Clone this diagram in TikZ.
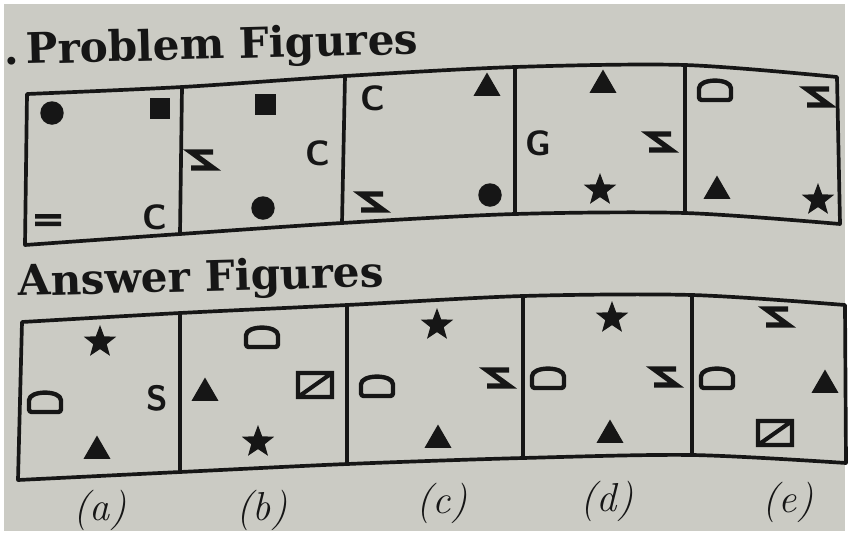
\documentclass[tikz,border=0pt]{standalone}
\usepackage{fontspec}
\usepackage{tikz}
\usetikzlibrary{shapes.geometric,positioning}
\newfontfamily\headfont{DejaVu Serif}

\definecolor{paper}{RGB}{203,203,196}
\definecolor{ink}{RGB}{22,22,22}

\tikzset{
  frame/.style={draw=ink, line width=2.1pt, line join=round},
  inkline/.style={draw=ink, line width=2.5pt},
  blob/.style={circle, fill=ink, inner sep=0pt, minimum size=0.47cm},
  block/.style={rectangle, fill=ink, inner sep=0pt, minimum size=0.42cm},
  tri/.style={regular polygon, regular polygon sides=3, fill=ink, inner sep=0pt, minimum size=0.62cm},
  starry/.style={star, star points=5, star point ratio=2.4, fill=ink, inner sep=0pt, minimum size=0.68cm},
  glyph/.style={text=ink, font=\sffamily\bfseries\fontsize{20}{20}\selectfont, inner sep=0pt},
  title/.style={anchor=base west, text=ink, font=\headfont\bfseries\fontsize{24}{24}\selectfont, inner sep=0pt},
  tag/.style={text=ink, font=\itshape\fontsize{23}{23}\selectfont, inner sep=0pt}
}
% little drawn marks, #1 is the centre
\newcommand{\zeemark}[1]{\draw[inkline, line width=3pt, line join=miter, shift={#1}] (11,-8) -- (-11,-8) -- (11,8) -- (-11,8);}
\newcommand{\domemark}[1]{\draw[inkline, line join=round, rounded corners=1.5pt, shift={#1}] (-16,9) -- (-16,0) .. controls (-16,-13) and (16,-13) .. (16,0) -- (16,9) -- cycle;}
\newcommand{\boxmark}[1]{\draw[inkline, line width=2.3pt, shift={#1}] (-17,-12) rectangle (17,12) (-17,12) -- (17,-12);}
\newcommand{\barsmark}[1]{\fill[ink, shift={#1}] (-13,-6) rectangle (13,-1.5) (-13,1.5) rectangle (13,6);}

\begin{document}
\begin{tikzpicture}[x=0.02cm, y=-0.02cm]
\useasboundingbox (0,0) rectangle (849,535);
\fill[white] (0,0) rectangle (849,535);
\fill[paper] (4,4) rectangle (845,531);

% headings
\node[title] (dotmark) at (4,64) {.};
\node[title, rotate=1.5] (probhead) at (26,64) {Problem Figures};
\node[title, rotate=1.5] (anshead) at (18,296) {Answer Figures};

% problem strip
\coordinate (pt0) at (27,94);  \coordinate (pb0) at (25,245);
\coordinate (pt1) at (182,87); \coordinate (pb1) at (180,234);
\coordinate (pt2) at (345,76); \coordinate (pb2) at (342,223);
\coordinate (pt3) at (515,67); \coordinate (pb3) at (515,214);
\coordinate (pt4) at (685,65); \coordinate (pb4) at (685,213);
\coordinate (pt5) at (837,77); \coordinate (pb5) at (840,224);
\draw[frame] plot[smooth, tension=0.5] coordinates {(pt0) (pt1) (pt2) (pt3) (pt4) (pt5)}
  -- plot[smooth, tension=0.5] coordinates {(pb5) (pb4) (pb3) (pb2) (pb1) (pb0)} -- cycle;
\foreach \i in {1,...,4}
  \draw[frame] (pt\i) -- (pb\i);

% answer strip
\coordinate (at0) at (22,322);  \coordinate (ab0) at (18,480);
\coordinate (at1) at (180,313); \coordinate (ab1) at (180,472);
\coordinate (at2) at (347,305); \coordinate (ab2) at (347,464);
\coordinate (at3) at (523,296); \coordinate (ab3) at (523,458);
\coordinate (at4) at (692,295); \coordinate (ab4) at (692,455);
\coordinate (at5) at (845,305); \coordinate (ab5) at (846,463);
\draw[frame] plot[smooth, tension=0.5] coordinates {(at0) (at1) (at2) (at3) (at4) (at5)}
  -- plot[smooth, tension=0.5] coordinates {(ab5) (ab4) (ab3) (ab2) (ab1) (ab0)} -- cycle;
\foreach \i in {1,...,4}
  \draw[frame] (at\i) -- (ab\i);

% problem figure 1
\node[blob] (p1dot) at (52,113) {};
\node[block] (p1sq) at (160,108) {};
\barsmark{(48,220)}
\node[glyph] (p1c) at (155,217) {C};
% problem figure 2
\node[block] (p2sq) at (265,104) {};
\zeemark{(202,160)}
\node[glyph] (p2c) at (318,153) {C};
\node[blob] (p2dot) at (263,208) {};
% problem figure 3
\node[glyph] (p3c) at (373,98) {C};
\node[tri] (p3tri) at (487,88) {};
\zeemark{(372,202)}
\node[blob] (p3dot) at (490,195) {};
% problem figure 4
\node[tri] (p4tri) at (603,85) {};
\node[glyph] (p4g) at (538,143) {G};
\zeemark{(660,142)}
\node[starry] (p4star) at (600,190) {};
% problem figure 5
\domemark{(715,91)}
\zeemark{(818,97)}
\node[tri] (p5tri) at (717,191) {};
\node[starry] (p5star) at (818,200) {};

% answer (a)
\node[starry] (a1star) at (100,342) {};
\domemark{(45,403)}
\node[glyph] (a1s) at (157,398) {S};
\node[tri] (a1tri) at (97,451) {};
% answer (b)
\domemark{(262,338)}
\node[tri] (a2tri) at (205,393) {};
\boxmark{(315,385)}
\node[starry] (a2star) at (258,442) {};
% answer (c)
\node[starry] (a3star) at (437,325) {};
\domemark{(377,387)}
\zeemark{(498,378)}
\node[tri] (a3tri) at (438,440) {};
% answer (d)
\node[starry] (a4star) at (612,318) {};
\domemark{(548,379)}
\zeemark{(665,377)}
\node[tri] (a4tri) at (610,435) {};
% answer (e)
\zeemark{(777,317)}
\domemark{(717,379)}
\node[tri] (a5tri) at (825,385) {};
\boxmark{(775,433)}

% option tags
\node[tag] (taga) at (100,510) {(a)};
\node[tag] (tagb) at (262,510) {(b)};
\node[tag] (tagc) at (442,503) {(c)};
\node[tag] (tagd) at (607,501) {(d)};
\node[tag] (tage) at (788,502) {(e)};
\end{tikzpicture}
\end{document}
